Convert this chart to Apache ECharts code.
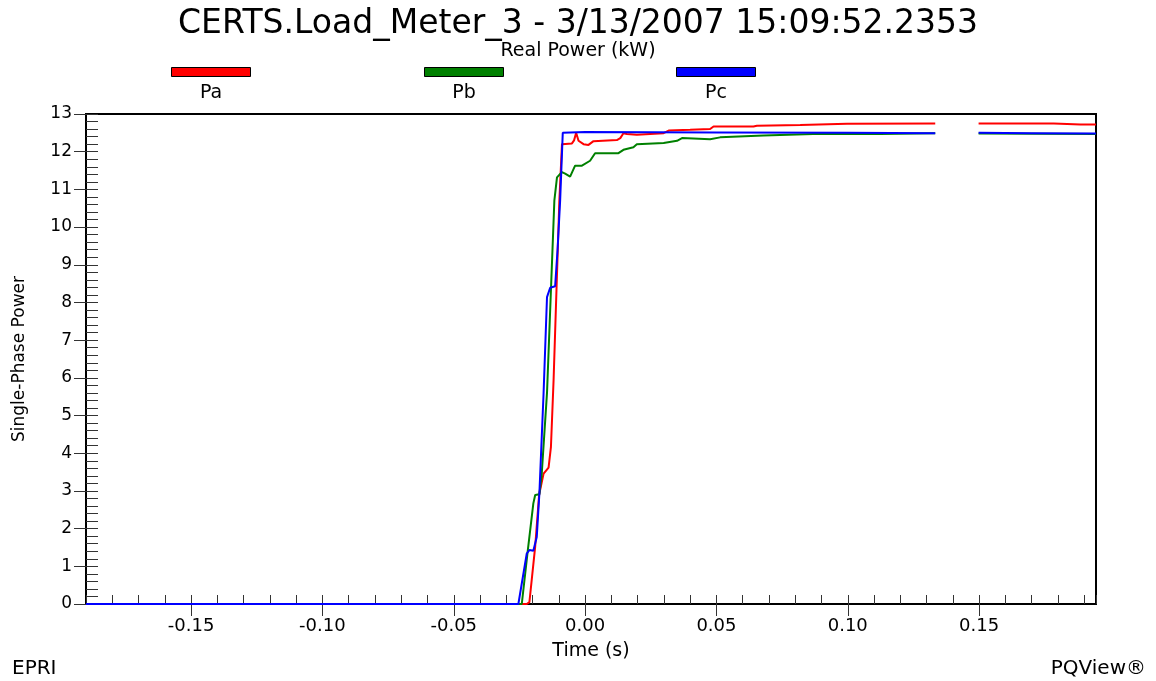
<!DOCTYPE html>
<html>
<head>
<meta charset="utf-8">
<script src="https://cdn.jsdelivr.net/npm/echarts@6/dist/echarts.min.js"></script>
<style>
html,body{margin:0;padding:0;background:#fff;}
#chart{width:1156px;height:681px;}
</style>
</head>
<body>
<div id="chart"></div>
<script>
// ---- data (time in s, real power in kW) ----
const seriesNames = ['Pa', 'Pb', 'Pc'];
const seriesColors = ['#ff0000', '#008000', '#0000ff'];
const xTickLabels = [-0.15, -0.10, -0.05, 0.00, 0.05, 0.10, 0.15];

const paData = [
  [-0.19, 0], [-0.0222, 0], [-0.0212, 0.05], [-0.019, 1.52], [-0.0175, 2.9],
  [-0.0158, 3.46], [-0.0139, 3.62], [-0.013, 4.17], [-0.012, 5.93], [-0.0098, 10.7],
  [-0.0088, 12.2], [-0.005, 12.22], [-0.0042, 12.3], [-0.0034, 12.5], [-0.0025, 12.29],
  [-0.0006, 12.2], [0.0013, 12.18], [0.0032, 12.28], [0.0121, 12.31], [0.0134, 12.36],
  [0.0146, 12.49], [0.0159, 12.47], [0.0197, 12.45], [0.0299, 12.49], [0.0318, 12.56],
  [0.04, 12.58], [0.0476, 12.6], [0.0489, 12.67], [0.0641, 12.67], [0.0654, 12.69],
  [0.0819, 12.71], [0.0997, 12.74], [0.1333, 12.75], [0.141, null],
  [0.1498, 12.75], [0.1784, 12.75], [0.1886, 12.72], [0.1945, 12.72]
];
const pbData = [
  [-0.19, 0], [-0.0241, 0], [-0.0218, 1.43], [-0.0197, 2.67], [-0.019, 2.89],
  [-0.0174, 2.91], [-0.0165, 3.46], [-0.0145, 5.6], [-0.0117, 10.7], [-0.0107, 11.32],
  [-0.0088, 11.46], [-0.0076, 11.42], [-0.0057, 11.34], [-0.0038, 11.63], [-0.0012, 11.63],
  [0.0019, 11.76], [0.0038, 11.96], [0.0127, 11.96], [0.0146, 12.05], [0.0184, 12.12],
  [0.0197, 12.2], [0.0299, 12.23], [0.035, 12.29], [0.0369, 12.36], [0.0476, 12.33],
  [0.0514, 12.38], [0.0679, 12.43], [0.0869, 12.47], [0.1124, 12.47], [0.1333, 12.49],
  [0.141, null], [0.1498, 12.48], [0.1945, 12.47]
];
const pcData = [
  [-0.19, 0], [-0.0254, 0], [-0.0222, 1.34], [-0.0212, 1.43], [-0.0197, 1.41],
  [-0.0184, 1.78], [-0.0174, 2.93], [-0.0158, 5.6], [-0.0145, 8.14], [-0.0133, 8.39],
  [-0.0114, 8.43], [-0.0105, 9.38], [-0.0095, 10.7], [-0.0085, 12.5], [0.0, 12.52],
  [0.05, 12.51], [0.1, 12.5], [0.1333, 12.49], [0.141, null],
  [0.1498, 12.5], [0.17, 12.49], [0.1945, 12.48]
];
const allData = [paData, pbData, pcData];

const FONT = 'DejaVu Sans';
const X_MIN = -0.19, X_MAX = 0.1945;

const chart = echarts.init(document.getElementById('chart'), null, {renderer: 'canvas'});

const legendLeft = [171, 424, 676];

const option = {
  backgroundColor: '#ffffff',
  animation: false,
  title: {
    text: 'CERTS.Load_Meter_3 - 3/13/2007 15:09:52.2353',
    subtext: 'Real Power (kW)',
    left: 'center',
    top: 3,
    itemGap: 1,
    textStyle: {fontFamily: FONT, fontSize: 33, fontWeight: 'normal', color: '#000'},
    subtextStyle: {fontFamily: FONT, fontSize: 19, color: '#000'}
  },
  legend: seriesNames.map((n, i) => ({
    data: [n],
    left: legendLeft[i],
    top: 67,
    icon: 'rect',
    itemWidth: 79,
    itemHeight: 9,
    padding: 0,
    selectedMode: false,
    formatter: () => '',
    itemStyle: {borderColor: '#000', borderWidth: 1},
    textStyle: {fontSize: 1}
  })),
  grid: {
    left: 86, right: 60, top: 114, bottom: 77,
    outerBoundsMode: 'none',
    containLabel: false,
    show: true, borderColor: '#000', borderWidth: 2, backgroundColor: 'transparent'
  },
  xAxis: [
    {
      type: 'value', position: 'bottom', min: X_MIN, max: X_MAX,
      name: 'Time (s)', nameLocation: 'middle', nameGap: 38,
      nameTextStyle: {fontFamily: FONT, fontSize: 19, color: '#000'},
      axisLine: {show: true, onZero: false, lineStyle: {color: '#000', width: 1.5}},
      axisTick: {show: true, inside: false, length: 12, customValues: xTickLabels, lineStyle: {color: '#333', width: 1}},
      axisLabel: {customValues: xTickLabels, margin: 13, fontFamily: FONT, fontSize: 18, color: '#000',
        formatter: v => v.toFixed(2)},
      splitLine: {show: false}
    },
    {
      type: 'value', position: 'bottom', min: X_MIN, max: X_MAX, interval: 0.01,
      axisLine: {show: false, onZero: false},
      axisTick: {show: true, inside: true, length: 9, lineStyle: {color: '#333', width: 1}},
      axisLabel: {show: false},
      splitLine: {show: false}
    }
  ],
  yAxis: [
    {
      type: 'value', position: 'left', min: 0, max: 13, interval: 1,
      name: 'Single-Phase Power', nameLocation: 'middle', nameGap: 58, nameRotate: 90,
      nameTextStyle: {fontFamily: FONT, fontSize: 17, color: '#000'},
      axisLine: {show: true, onZero: false, lineStyle: {color: '#000', width: 2}},
      axisTick: {show: true, inside: false, length: 12, lineStyle: {color: '#333', width: 1}},
      axisLabel: {margin: 14, fontFamily: FONT, fontSize: 17, color: '#000'},
      splitLine: {show: false}
    },
    {
      type: 'value', position: 'left', min: 0, max: 13, interval: 0.2,
      axisLine: {show: false, onZero: false},
      axisTick: {show: true, inside: true, length: 12, lineStyle: {color: '#333', width: 1}},
      axisLabel: {show: false},
      splitLine: {show: false}
    }
  ],
  series: seriesNames.map((n, i) => ({
    name: n,
    type: 'line',
    xAxisIndex: 0,
    yAxisIndex: 0,
    data: allData[i],
    showSymbol: false,
    symbol: 'none',
    connectNulls: false,
    color: seriesColors[i],
    itemStyle: {color: seriesColors[i]},
    lineStyle: {color: seriesColors[i], width: 2},
    z: 3 + i
  })),
  graphic: [
    ...seriesNames.map((n, i) => ({
      type: 'text', x: legendLeft[i] + 40, y: 84,
      style: {text: n, fontFamily: FONT, fontSize: 19, fill: '#000', align: 'center'}
    })),
    {type: 'text', x: 12, y: 659, style: {text: 'EPRI', fontFamily: FONT, fontSize: 20, fill: '#000'}},
    {type: 'text', x: 1146, y: 659, style: {text: 'PQView®', fontFamily: FONT, fontSize: 20, fill: '#000', align: 'right'}}
  ]
};
chart.setOption(option);
</script>
</body>
</html>
